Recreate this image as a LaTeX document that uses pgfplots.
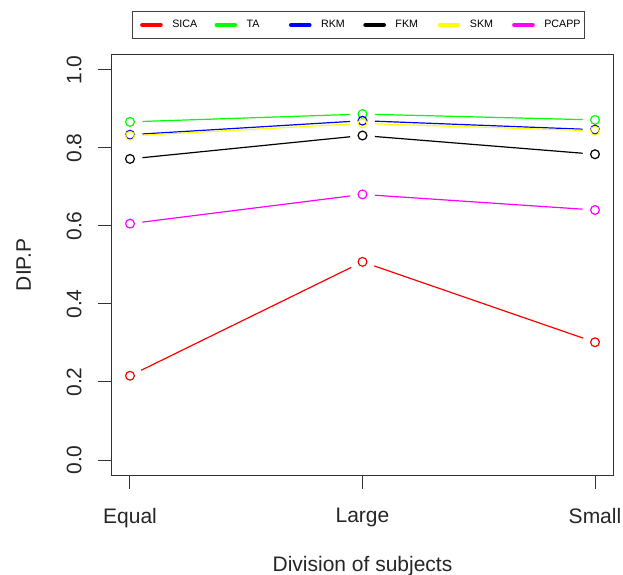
\documentclass[border=0pt]{standalone}
\usepackage{fontspec}
\setmainfont{Liberation Sans}
\usepackage{pgfplots}
\pgfplotsset{compat=1.18}

% R palette
\definecolor{rred}{RGB}{255,0,0}
\definecolor{rgreen}{RGB}{0,255,0}
\definecolor{rblue}{RGB}{0,0,255}
\definecolor{ryellow}{RGB}{255,255,0}
\definecolor{rmagenta}{RGB}{255,0,255}

\newcommand{\bigfont}{\fontsize{21bp}{25bp}\selectfont}

% One method: two line segments with gaps at the points, then open circles.
% #1 colour, #2 Equal, #3 Large, #4 Small
\newcommand{\method}[4]{%
  \addplot[#1, line width=1.2bp, shorten <=12.5bp, shorten >=12.5bp, forget plot]
    coordinates {(0,#2) (1,#3)};
  \addplot[#1, line width=1.2bp, shorten <=12.5bp, shorten >=12.5bp, forget plot]
    coordinates {(1,#3) (2,#4)};
  \addplot[#1, only marks, mark=o, mark size=4.4bp,
    mark options={line width=1.2bp, solid}, forget plot]
    coordinates {(0,#2) (1,#3) (2,#4)};
}

\newcommand{\legline}[2]{%
  \addlegendimage{#1, legend image code/.code={%
    \draw[line width=4bp, line cap=round] (2bp,0bp) -- (20.6bp,0bp);
    \path (0bp,0bp) (22.6bp,0bp);}}
  \addlegendentry{\makebox[33.6bp][l]{#2}}
}

\begin{document}
\begin{tikzpicture}[x=1bp,y=1bp]
\begin{axis}[
  at={(0,0)}, anchor=south west,
  scale only axis, width=502.2bp, height=421.2bp,
  xmin=-0.08, xmax=2.08, ymin=-0.04, ymax=1.04,
  xtick={0,1,2}, xticklabels={Equal,Large,Small},
  ytick={0,0.2,0.4,0.6,0.8,1.0},
  /pgf/number format/fixed, /pgf/number format/fixed zerofill,
  /pgf/number format/precision=1,
  /pgf/number format/assume math mode=true,
  tick pos=lower, tick align=outside,
  major tick length=13bp,
  axis line style={black!80, line width=1bp},
  every tick/.style={black!80, line width=1bp},
  ticklabel style={font=\bigfont, text=black!85},
  xticklabel style={anchor=north, inner sep=0pt, yshift=-19bp},
  yticklabel style={rotate=90, anchor=south, inner sep=0pt, yshift=16.5bp},
  xlabel={Division of subjects}, ylabel={DIP.P},
  every axis x label/.style={at={(axis description cs:0.5,0)}, anchor=north,
    inner sep=0pt, yshift=-80.5bp, font=\bigfont, text=black!85},
  every axis y label/.style={at={(axis description cs:0,0.5)}, rotate=90,
    anchor=south, inner sep=0pt, yshift=80.4bp, font=\bigfont, text=black!85},
  legend columns=6,
  legend style={at={(axis description cs:0.4926,1.0698)}, anchor=center,
    draw=black!75, line width=1bp, inner xsep=7bp, inner ysep=8.6bp,
    font=\fontsize{10.7bp}{12bp}\selectfont,
    nodes={inner sep=0bp, text depth=0.15em},
    /tikz/every odd column/.append style={column sep=9bp},
    /tikz/every even column/.append style={column sep=8.2bp}},
]
\legline{rred}{SICA}
\legline{rgreen}{TA}
\legline{rblue}{RKM}
\legline{black}{FKM}
\legline{ryellow}{SKM}
\legline{rmagenta}{PCAPP}

%        colour     Equal  Large  Small
\method{rred}      {0.216}{0.508}{0.302}
\method{rgreen}    {0.867}{0.887}{0.872}
\method{rblue}     {0.834}{0.870}{0.847}
\method{black}     {0.772}{0.832}{0.784}
\method{ryellow}   {0.831}{0.863}{0.844}
\method{rmagenta}  {0.606}{0.681}{0.641}
\end{axis}
\pgfresetboundingbox
\path[use as bounding box] (-111.4bp,-99.4bp) rectangle (511.6bp,475.6bp);
\end{tikzpicture}
\end{document}
